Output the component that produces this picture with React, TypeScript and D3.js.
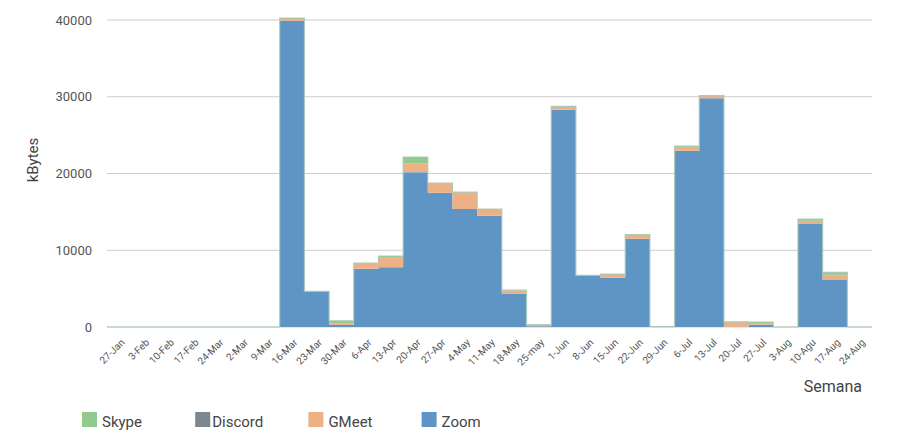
import React from "react";
import * as d3 from "d3";

const categories = ["27-Jan","3-Feb","10-Feb","17-Feb","24-Mar","2-Mar","9-Mar","16-Mar","23-Mar","30-Mar","6-Apr","13-Apr","20-Apr","27-Apr","4-May","11-May","18-May","25-may","1-Jun","8-Jun","15-Jun","22-Jun","29-Jun","6-Jul","13-Jul","20-Jul","27-Jul","3-Aug","10-Agu","17-Aug","24-Aug"];
const zoom = [0,0,0,0,0,0,0,39900,4650,250,7600,7800,20150,17500,15370,14500,4350,100,28300,6730,6430,11500,50,22970,29800,30,300,0,13420,6120,0];
const gmeet = [0,0,0,0,0,0,0,350,0,250,740,1230,1200,1260,2200,870,450,200,450,0,470,480,0,400,350,650,220,0,430,690,0];
const discord = [0,0,0,0,0,0,0,0,0,0,0,0,0,0,0,0,0,0,0,0,0,0,0,0,0,0,0,0,0,0,0];
const skype = [0,0,0,0,0,0,0,0,0,300,0,220,800,0,0,0,0,0,0,0,0,60,0,200,0,0,130,0,220,310,0];
const yTicks = [0,10000,20000,30000,40000];
const seriesNames = ["Zoom","GMeet","Discord","Skype"];
const colors: Record<string,string> = { Skype: "#91c98f", Discord: "#7d878e", GMeet: "#eeb186", Zoom: "#5f95c4" };
const legendOrder = ["Skype","Discord","GMeet","Zoom"];

const W = 901, H = 430;
const left = 107, right = 872, top = 20, bottom = 327;
const font = "Roboto, 'Noto Sans', sans-serif";

export default function App() {
  const rows = categories.map((c, i) => ({ cat: c, i, Zoom: zoom[i], GMeet: gmeet[i], Discord: discord[i], Skype: skype[i] }));
  const x = d3.scaleBand<string>().domain(categories).range([left, right]).padding(0);
  const y = d3.scaleLinear().domain([0, 40000]).range([bottom, top]);
  const stacked = d3.stack<any>().keys(seriesNames)(rows);
  const xs = (i: number) => (i < categories.length ? (x(categories[i]) as number) : right);
  const area = d3.area<any>()
    .x((d: any) => d.px)
    .y0((d: any) => y(d.y0))
    .y1((d: any) => y(d.y1))
    .curve(d3.curveStepAfter);
  const line = d3.line<any>().x((d: any) => d.px).y((d: any) => y(d.y1)).curve(d3.curveStepAfter);
  const pts = (s: any) => {
    const arr = s.map((d: any, i: number) => ({ px: xs(i), y0: d[0], y1: d[1] }));
    const last = arr[arr.length - 1];
    arr.push({ px: right, y0: last.y0, y1: last.y1 });
    return arr;
  };
  const bw = x.bandwidth();
  return (
    <svg width={W} height={H} style={{ display: "block", position: "absolute", left: 0, top: 0 }} fontFamily={font}>
      <rect width={W} height={H} fill="#fff" />
      {yTicks.map((t) => (
        <g key={t}>
          <line x1={left} x2={right} y1={y(t)} y2={y(t)} stroke="#cccccc" strokeWidth={1} />
          <text x={92} y={y(t)} dy="0.35em" textAnchor="end" fontSize={13} fill="#555">{t}</text>
        </g>
      ))}
      {stacked.map((s: any) => (
        <path key={s.key} d={area(pts(s)) || ""} fill={colors[s.key]} stroke="none" />
      ))}
      <path d={line(pts(stacked[stacked.length - 1])) || ""} fill="none" stroke="#a8c9b4" strokeOpacity={0.9} strokeWidth={1.2} />
      {categories.map((c, i) => {
        const cx = (x(c) as number) + bw / 2 + 6;
        const cy = 343;
        return (
          <text key={c} x={cx} y={cy} textAnchor="end" fontSize={10} fill="#555" transform={`rotate(-45 ${cx} ${cy})`}>{c}</text>
        );
      })}
      <text transform={`rotate(-90 38 160)`} x={38} y={160} textAnchor="middle" fontSize={15} fill="#444">kBytes</text>
      <text x={862} y={392} textAnchor="end" fontSize={16} fill="#444">Semana</text>
      {legendOrder.map((k, i) => (
        <g key={k} transform={`translate(${82 + i * 113.2},412)`}>
          <rect width={15} height={15} fill={colors[k]} />
          <text x={k === "Discord" ? 17 : 20} y={15} fontSize={15} fill="#444">{k}</text>
        </g>
      ))}
    </svg>
  );
}
